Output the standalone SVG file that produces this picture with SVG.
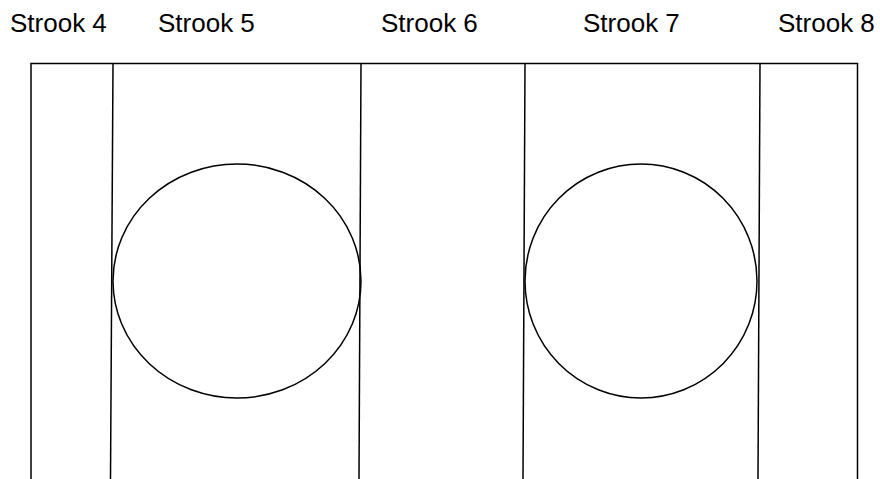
<svg xmlns="http://www.w3.org/2000/svg" width="880" height="479" viewBox="0 0 880 479">
<style>
.ln{stroke:#000;stroke-width:1.5;fill:none}
.lbl{font-family:"Liberation Sans",Arial,sans-serif;font-size:26px;fill:#000}
</style>
<rect width="880" height="479" fill="#fff"/>
<g id="labels">
<text class="lbl" x="10" y="32">Strook 4</text>
<text class="lbl" x="158" y="32">Strook 5</text>
<text class="lbl" x="381" y="32">Strook 6</text>
<text class="lbl" x="583" y="32">Strook 7</text>
<text class="lbl" x="778" y="32">Strook 8</text>
</g>
<g id="strips">
<path class="ln" d="M31 479 V63.5 H857.5 V479"/>
<line class="ln" x1="113" y1="63.5" x2="110.5" y2="479"/>
<line class="ln" x1="361" y1="63.5" x2="359" y2="479"/>
<line class="ln" x1="525" y1="63.5" x2="523" y2="479"/>
<line class="ln" x1="760" y1="63.5" x2="758" y2="479"/>
</g>
<g id="circle1"><ellipse class="ln" cx="237" cy="281" rx="124" ry="117"/></g>
<g id="circle2"><ellipse class="ln" cx="641" cy="281" rx="116" ry="117"/></g>
</svg>
